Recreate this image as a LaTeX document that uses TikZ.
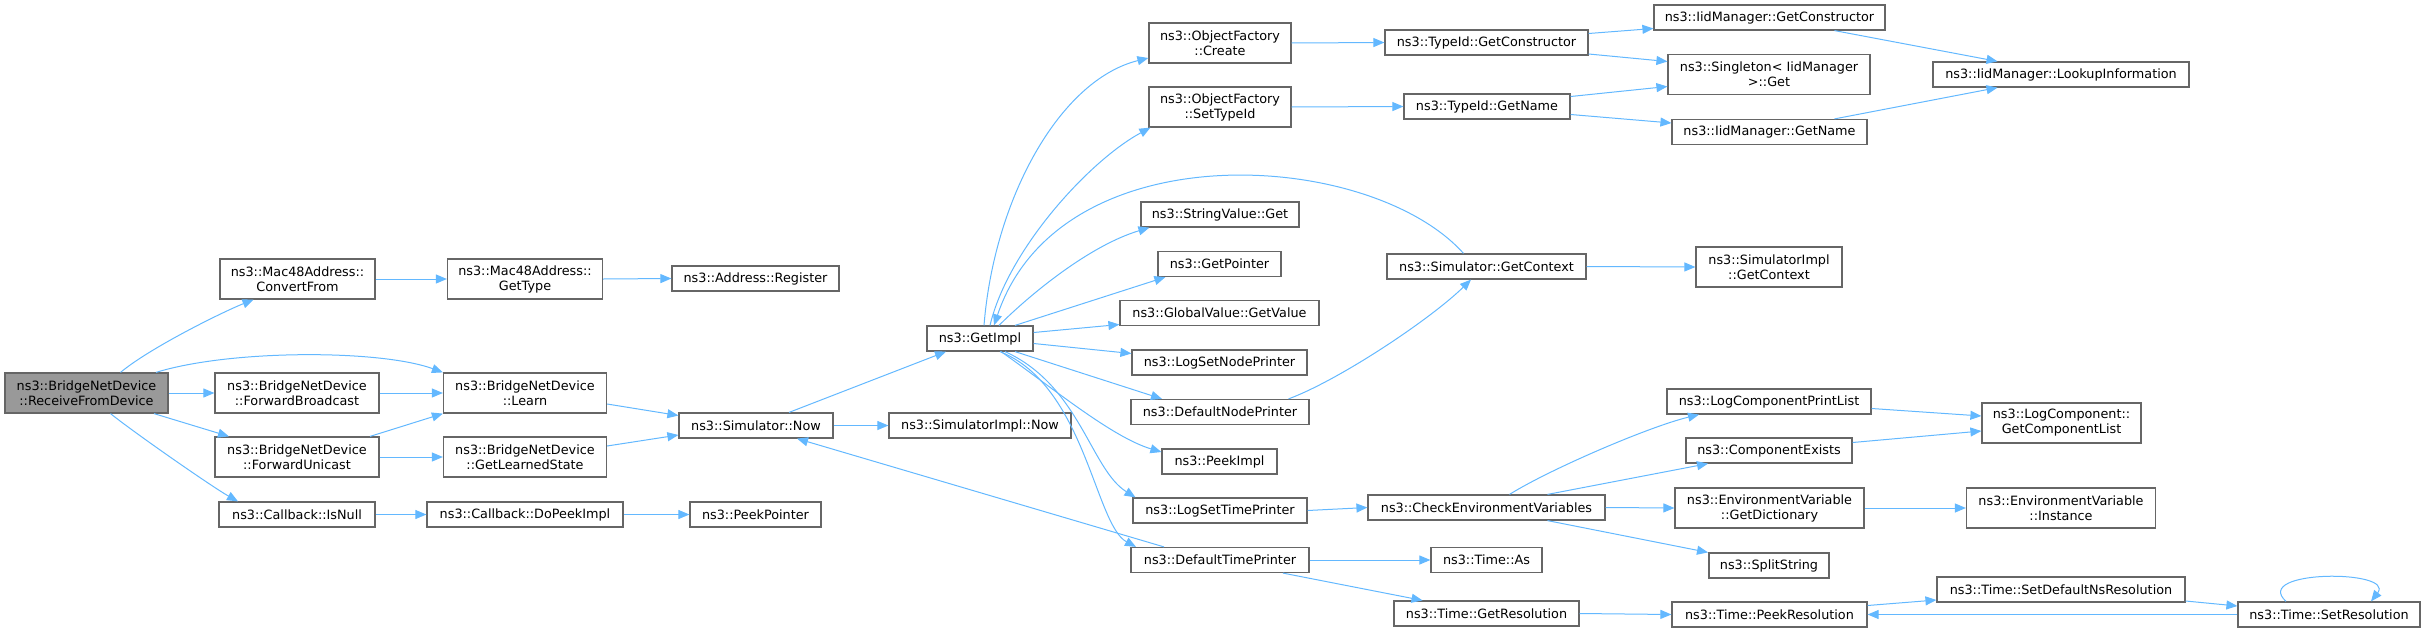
\documentclass[tikz,border=0pt]{standalone}
\usepackage{fontspec}
\setmainfont{DejaVu Sans}
\usetikzlibrary{arrows.meta,calc}
\definecolor{edgeblue}{HTML}{63B8FF}
\definecolor{boxgray}{HTML}{666666}
\definecolor{rootgray}{HTML}{999999}

\begin{document}
\begin{tikzpicture}[x=1pt,y=-1pt,
    func/.style={draw=boxgray,line width=1.2pt,fill=white,inner sep=0pt,minimum height=25pt,align=center,font=\fontsize{12.8}{15}\selectfont},
    twoline/.style={func,minimum height=40pt},
    rootfunc/.style={twoline,fill=rootgray},
    call/.style={edgeblue,line width=1pt,-{Triangle[length=11pt,width=9pt]}}]
    \useasboundingbox (0,0) rectangle (2427,632);

    \node[rootfunc,minimum width=163] (rfd) at (86.5,393) {ns3::BridgeNetDevice\\::ReceiveFromDevice};
    \node[twoline,minimum width=155] (cf) at (297.5,279) {ns3::Mac48Address::\\ConvertFrom};
    \node[twoline,minimum width=155] (gt) at (525,279) {ns3::Mac48Address::\\GetType};
    \node[func,minimum width=167] (reg) at (755.5,278.5) {ns3::Address::Register};
    \node[twoline,minimum width=164] (fb) at (297,393) {ns3::BridgeNetDevice\\::ForwardBroadcast};
    \node[twoline,minimum width=164] (fu) at (297,457) {ns3::BridgeNetDevice\\::ForwardUnicast};
    \node[twoline,minimum width=163] (learn) at (525,393) {ns3::BridgeNetDevice\\::Learn};
    \node[twoline,minimum width=163] (gls) at (525,457) {ns3::BridgeNetDevice\\::GetLearnedState};
    \node[func,minimum width=156] (isnull) at (297,514.5) {ns3::Callback::IsNull};
    \node[func,minimum width=196] (dpi) at (525,514.5) {ns3::Callback::DoPeekImpl};
    \node[func,minimum width=131] (pp) at (755.5,514.5) {ns3::PeekPointer};
    \node[func,minimum width=154] (now) at (756,425.5) {ns3::Simulator::Now};
    \node[func,minimum width=182] (simnow) at (980,425.5) {ns3::SimulatorImpl::Now};
    \node[func,minimum width=106] (gi) at (980,338.5) {ns3::GetImpl};

    \node[twoline,minimum width=142] (ofc) at (1220,43) {ns3::ObjectFactory\\::Create};
    \node[twoline,minimum width=142] (ofs) at (1220,107) {ns3::ObjectFactory\\::SetTypeId};
    \node[func,minimum width=158] (svg) at (1220,214.5) {ns3::StringValue::Get};
    \node[func,minimum width=123] (gp) at (1219.5,264) {ns3::GetPointer};
    \node[func,minimum width=199] (gv) at (1219.5,313) {ns3::GlobalValue::GetValue};
    \node[func,minimum width=175] (lsnp) at (1219.5,362.5) {ns3::LogSetNodePrinter};
    \node[func,minimum width=178] (dnp) at (1220,412) {ns3::DefaultNodePrinter};
    \node[func,minimum width=115] (pi) at (1219.5,461.5) {ns3::PeekImpl};
    \node[func,minimum width=174] (lstp) at (1220,510.5) {ns3::LogSetTimePrinter};
    \node[func,minimum width=178] (dtp) at (1220,560) {ns3::DefaultTimePrinter};

    \node[func,minimum width=203] (tgc) at (1486.5,42.5) {ns3::TypeId::GetConstructor};
    \node[func,minimum width=166] (tgn) at (1487,106.5) {ns3::TypeId::GetName};
    \node[func,minimum width=199] (sgc) at (1486.5,266.5) {ns3::Simulator::GetContext};
    \node[func,minimum width=237] (ce) at (1486.5,507.5) {ns3::CheckEnvironmentVariables};
    \node[func,minimum width=111] (ta) at (1486.5,560) {ns3::Time::As};
    \node[func,minimum width=185] (tgr) at (1486.5,613.5) {ns3::Time::GetResolution};

    \node[func,minimum width=231] (igc) at (1769.5,17.5) {ns3::IidManager::GetConstructor};
    \node[twoline,minimum width=202] (sing) at (1769,74.5) {ns3::Singleton< IidManager\\>::Get};
    \node[func,minimum width=195] (ign) at (1769.5,132) {ns3::IidManager::GetName};
    \node[twoline,minimum width=146] (sigc) at (1769,267) {ns3::SimulatorImpl\\::GetContext};
    \node[func,minimum width=204] (lcpl) at (1769,401.5) {ns3::LogComponentPrintList};
    \node[func,minimum width=166] (cex) at (1769,450.5) {ns3::ComponentExists};
    \node[twoline,minimum width=189] (gd) at (1769.5,508) {ns3::EnvironmentVariable\\::GetDictionary};
    \node[func,minimum width=120] (ss) at (1769,565.5) {ns3::SplitString};
    \node[func,minimum width=195] (pr) at (1769.5,614.5) {ns3::Time::PeekResolution};

    \node[func,minimum width=256] (lu) at (2061,74.5) {ns3::IidManager::LookupInformation};
    \node[twoline,minimum width=159] (gcl) at (2061.5,423) {ns3::LogComponent::\\GetComponentList};
    \node[twoline,minimum width=189] (inst) at (2061,508) {ns3::EnvironmentVariable\\::Instance};
    \node[func,minimum width=248] (sdn) at (2061,589.5) {ns3::Time::SetDefaultNsResolution};
    \node[func,minimum width=182] (sr) at (2329,614.5) {ns3::Time::SetResolution};

    \draw[call] ($(rfd.north)+(34,0)$) .. controls +(30,-25) and +(-30,12) .. ($(cf.south)+(-44,0)$);
    \draw[call] ($(rfd.north)+(69.5,0)$) .. controls +(74,-23) and +(-63,-23) .. (learn.north west);
    \draw[call] (rfd.east) -- (fb.west);
    \draw[call] ($(rfd.south)+(67.5,0)$) -- ($(fu.north)+(-68,0)$);
    \draw[call] ($(rfd.south)+(24,0)$) .. controls +(25,20) and +(-25,-14) .. ($(isnull.north)+(-59,0)$);
    \draw[call] (cf.east) -- (gt.west);
    \draw[call] (gt.east) -- (reg.west);
    \draw[call] (fb.east) -- (learn.west);
    \draw[call] ($(fu.north)+(73,0)$) -- (learn.south west);
    \draw[call] (fu.east) -- (gls.west);
    \draw[call] ($(learn.east)+(0,11)$) -- ($(now.west)+(0,-10)$);
    \draw[call] ($(gls.east)+(0,-11)$) -- ($(now.west)+(0,9.5)$);
    \draw[call] (isnull.east) -- (dpi.west);
    \draw[call] (dpi.east) -- (pp.west);
    \draw[call] ($(now.north)+(33,0)$) -- ($(gi.south)+(-34,0)$);
    \draw[call] (now.east) -- (simnow.west);
    \draw[call] ($(dtp.north)+(-56,0)$) -- ($(now.south)+(41,0)$);

    \draw[call] ($(gi.north)+(4,0)$) .. controls +(10,-126) and +(-89,22) .. ($(ofc.west)+(0,15)$);
    \draw[call] ($(gi.north)+(10,0)$) .. controls +(18,-76) and +(-61,33) .. ($(ofs.south west)+(2,0)$);
    \draw[call] ($(sgc.north)+(-23,0)$) .. controls +(-93,-104) and +(66,-196) .. ($(gi.north)+(14,0)$);
    \draw[call] ($(gi.north)+(19,0)$) .. controls +(31,-31) and +(-60,18) .. ($(svg.south west)+(9,0)$);
    \draw[call] ($(gi.north)+(35,0)$) -- ($(gp.south west)+(8,0)$);
    \draw[call] ($(gi.east)+(0,-6)$) -- ($(gv.west)+(0,11.5)$);
    \draw[call] ($(gi.east)+(0,5)$) -- ($(lsnp.west)+(0,-9)$);
    \draw[call] ($(gi.south)+(35,0)$) -- ($(dnp.north)+(-58,0)$);
    \draw[call] ($(gi.south)+(21,0)$) .. controls +(50,35) and +(-50,-15) .. ($(pi.west)+(0,-9.5)$);
    \draw[call] ($(gi.south)+(25,0)$) .. controls +(75,34) and +(-45,-28) .. ($(lstp.north)+(-84.5,0)$);
    \draw[call] ($(gi.south)+(20,0)$) .. controls +(85,34) and +(-41,-22) .. ($(dtp.north)+(-84,0)$);

    \draw[call] (ofc.east) -- (tgc.west);
    \draw[call] (ofs.east) -- (tgn.west);
    \draw[call] ($(tgc.east)+(0,-9)$) -- ($(igc.west)+(0,11)$);
    \draw[call] ($(tgc.east)+(0,11.5)$) -- ($(sing.west)+(0,-13)$);
    \draw[call] ($(tgn.east)+(0,-10)$) -- ($(sing.west)+(0,12)$);
    \draw[call] ($(tgn.east)+(0,8)$) -- ($(ign.west)+(0,-9)$);
    \draw[call] ($(igc.south)+(65,0)$) -- ($(lu.north)+(-63.5,0)$);
    \draw[call] ($(ign.north)+(65,0)$) -- ($(lu.south)+(-63.5,0)$);
    \draw[call] ($(dnp.north)+(68.5,0)$) .. controls +(51,-19) and +(-41,40) .. ($(sgc.south)+(-15.5,0)$);
    \draw[call] (sgc.east) -- (sigc.west);

    \draw[call] (lstp.east) -- (ce.west);
    \draw[call] ($(ce.north)+(23,0)$) .. controls +(40,-25) and +(-50,12) .. ($(lcpl.south)+(-70,0)$);
    \draw[call] ($(ce.north)+(61,0)$) -- ($(cex.south)+(-61,0)$);
    \draw[call] (ce.east) -- (gd.west);
    \draw[call] ($(ce.south)+(61,0)$) -- ($(ss.north)+(-61,0)$);
    \draw[call] ($(lcpl.east)+(0,7)$) -- ($(gcl.west)+(0,-7)$);
    \draw[call] ($(cex.east)+(0,-8)$) -- ($(gcl.west)+(0,8)$);
    \draw[call] (gd.east) -- (inst.west);

    \draw[call] (dtp.east) -- (ta.west);
    \draw[call] ($(dtp.south)+(63,0)$) -- ($(tgr.north)+(-64,0)$);
    \draw[call] (tgr.east) -- (pr.west);
    \draw[call] ($(pr.east)+(0,-9)$) -- ($(sdn.west)+(0,10.5)$);
    \draw[call] ($(sdn.east)+(0,11.5)$) -- ($(sr.west)+(0,-8.5)$);
    \draw[call] (sr.west) -- (pr.east);
    \draw[call] ($(sr.north)+(-43,0)$) .. controls +(-35,-32) and +(25,-32) .. ($(sr.north)+(42,0)$);
  \end{tikzpicture}
\end{document}
